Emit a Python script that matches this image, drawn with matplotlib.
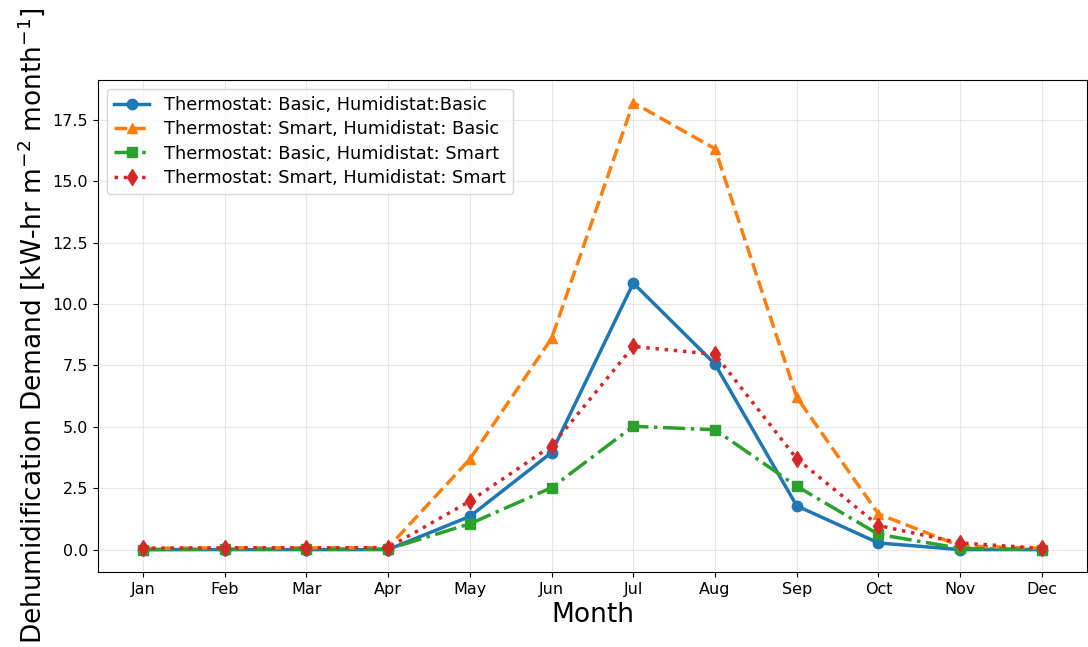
import matplotlib.pyplot as plt
import numpy as np

# Monthly dehumidification demand per control strategy
months = ["Jan", "Feb", "Mar", "Apr", "May", "Jun",
          "Jul", "Aug", "Sep", "Oct", "Nov", "Dec"]

basic_basic = [0.0, 0.0, 0.0, 0.0, 1.35, 3.95, 10.85, 7.55, 1.78, 0.27, 0.0, 0.0]
smart_basic = [0.05, 0.07, 0.07, 0.08, 3.68, 8.6, 18.2, 16.32, 6.2, 1.45, 0.15, 0.05]
basic_smart = [0.0, 0.02, 0.02, 0.02, 1.05, 2.52, 5.02, 4.88, 2.58, 0.62, 0.05, 0.0]
smart_smart = [0.05, 0.07, 0.07, 0.08, 1.97, 4.22, 8.27, 7.95, 3.7, 0.98, 0.27, 0.05]

x = np.arange(len(months))

fig, ax = plt.subplots(figsize=(10.88, 6.47), dpi=100)

ax.plot(x, basic_basic, color="tab:blue", linestyle="-", marker="o",
        lw=2.5, ms=7.5, label="Thermostat: Basic, Humidistat:Basic")
ax.plot(x, smart_basic, color="tab:orange", linestyle="--", marker="^",
        lw=2.5, ms=7.5, label="Thermostat: Smart, Humidistat: Basic")
ax.plot(x, basic_smart, color="tab:green", linestyle="-.", marker="s",
        lw=2.5, ms=7.5, label="Thermostat: Basic, Humidistat: Smart")
ax.plot(x, smart_smart, color="tab:red", linestyle=":", marker="d",
        lw=2.5, ms=8.5, label="Thermostat: Smart, Humidistat: Smart")

ax.set_xticks(x)
ax.set_xticklabels(months)
ax.tick_params(labelsize=11.5)
ax.grid(True, alpha=0.3)

ax.set_xlabel("Month", fontsize=19)
ax.set_ylabel("Dehumidification Demand [kW-hr m$^{-2}$ month$^{-1}$]", fontsize=19)
ax.legend(loc="upper left", fontsize=12.8, labelspacing=0.35)

plt.subplots_adjust(left=0.09, right=0.999, top=0.876, bottom=0.116)
plt.savefig("out.png")
